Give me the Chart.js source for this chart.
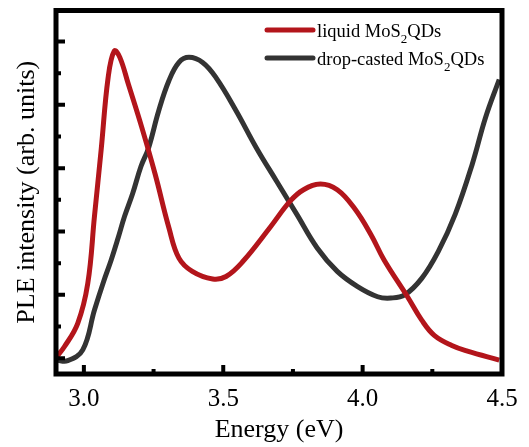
<!DOCTYPE html>
<html>
<head>
<meta charset="utf-8">
<script src="https://cdn.jsdelivr.net/npm/chart.js@4"></script>
<style>
  html, body { margin: 0; padding: 0; background: #fff; }
  canvas { display: block; }
</style>
</head>
<body>
<canvas id="pleChart" width="529" height="447"></canvas>
<script>
// PLE spectra, energy in eV, intensity in arbitrary units
const liquidEnergy = [2.90, 2.93, 2.978, 3.014, 3.038, 3.062, 3.087, 3.109, 3.129, 3.16, 3.208, 3.256, 3.305, 3.341, 3.389, 3.462, 3.51, 3.571, 3.667, 3.74, 3.788, 3.849, 3.909, 3.97, 4.03, 4.077, 4.161, 4.212, 4.257, 4.32, 4.376, 4.49];
const liquidIntensity = [0.01, 0.18, 0.55, 1.18, 2.24, 3.29, 4.43, 4.85, 4.75, 4.32, 3.64, 2.90, 2.06, 1.58, 1.37, 1.25, 1.29, 1.53, 2.06, 2.48, 2.66, 2.75, 2.66, 2.37, 1.95, 1.55, 0.97, 0.60, 0.36, 0.20, 0.11, -0.03];

const castEnergy = [2.90, 2.942, 2.996, 3.038, 3.07, 3.098, 3.123, 3.146, 3.175, 3.205, 3.232, 3.268, 3.305, 3.341, 3.377, 3.426, 3.474, 3.547, 3.619, 3.692, 3.764, 3.837, 3.909, 3.982, 4.054, 4.101, 4.151, 4.212, 4.272, 4.332, 4.393, 4.441, 4.49];
const castIntensity = [-0.03, -0.04, 0.13, 0.76, 1.2, 1.55, 1.9, 2.24, 2.6, 3.03, 3.32, 3.90, 4.38, 4.67, 4.75, 4.67, 4.43, 3.90, 3.32, 2.79, 2.27, 1.74, 1.37, 1.13, 0.97, 0.95, 1.0, 1.26, 1.69, 2.27, 3.06, 3.80, 4.40];

const xTickValues = [3.0, 3.5, 4.0, 4.5];
const xMinorTicks = [3.25, 3.75, 4.25];
const yMajorTicks = [0, 1, 2, 3, 4, 5];
const yMinorTicks = [0.5, 1.5, 2.5, 3.5, 4.5];

const seriesNames = ['liquid MoS|2|QDs', 'drop-casted MoS|2|QDs'];
const seriesColors = ['#b3151b', '#333333'];

const serif = "'Liberation Serif', 'Times New Roman', serif";

function toPoints(xs, ys) {
  return xs.map((x, i) => ({ x: x, y: ys[i] }));
}

// frame, inward ticks and legend with subscripts
const framePlugin = {
  id: 'frame',
  afterDatasetsDraw(chart) {
    const ctx = chart.ctx;
    const a = chart.chartArea;
    const xs = chart.scales.x, ys = chart.scales.y;
    ctx.save();
    ctx.strokeStyle = '#000';
    ctx.lineWidth = 4;
    ctx.beginPath();
    xTickValues.forEach(v => {
      const px = xs.getPixelForValue(v);
      ctx.moveTo(px, a.bottom); ctx.lineTo(px, a.bottom - 9);
    });
    xMinorTicks.forEach(v => {
      const px = xs.getPixelForValue(v);
      ctx.moveTo(px, a.bottom); ctx.lineTo(px, a.bottom - 5);
    });
    yMajorTicks.forEach(v => {
      const py = ys.getPixelForValue(v);
      ctx.moveTo(a.left, py); ctx.lineTo(a.left + 9, py);
    });
    yMinorTicks.forEach(v => {
      const py = ys.getPixelForValue(v);
      ctx.moveTo(a.left, py); ctx.lineTo(a.left + 5, py);
    });
    ctx.stroke();

    ctx.lineWidth = 5;
    ctx.strokeRect(a.left, a.top, a.right - a.left, a.bottom - a.top);

    // legend
    const lx = 267, lw = 46;
    const rows = [30, 58];
    chart.data.datasets.forEach((ds, i) => {
      const y = rows[i];
      ctx.strokeStyle = ds.borderColor;
      ctx.lineWidth = 5;
      ctx.lineCap = 'round';
      ctx.beginPath();
      ctx.moveTo(lx, y); ctx.lineTo(lx + lw, y);
      ctx.stroke();

      const parts = seriesNames[i].split('|');
      let tx = lx + lw + 4;
      ctx.fillStyle = '#000';
      ctx.textBaseline = 'alphabetic';
      ctx.textAlign = 'left';
      parts.forEach((p, k) => {
        const sub = k === 1;
        ctx.font = (sub ? 13 : 18.5) + 'px ' + serif;
        ctx.fillText(p, tx, y + 7 + (sub ? 6 : 0));
        tx += ctx.measureText(p).width;
      });
    });
    ctx.restore();
  }
};

const ctx = document.getElementById('pleChart').getContext('2d');
const pleChart = new Chart(ctx, {
  type: 'line',
  data: {
    datasets: [{
      label: 'liquid MoS2QDs',
      data: toPoints(liquidEnergy, liquidIntensity),
      borderColor: seriesColors[0],
      borderWidth: 5,
      pointRadius: 0,
      tension: 0.4
    }, {
      label: 'drop-casted MoS2QDs',
      data: toPoints(castEnergy, castIntensity),
      borderColor: seriesColors[1],
      borderWidth: 5,
      pointRadius: 0,
      tension: 0.4
    }]
  },
  options: {
    responsive: false,
    animation: false,
    layout: { padding: { top: 10.5, right: 27, left: 0, bottom: 0 } },
    plugins: {
      legend: { display: false },
      tooltip: { enabled: false }
    },
    scales: {
      x: {
        type: 'linear',
        min: 2.9,
        max: 4.5,
        afterBuildTicks: s => { s.ticks = xTickValues.map(v => ({ value: v })); },
        afterFit: s => { s.height = 73; },
        grid: { display: false, drawTicks: false },
        border: { display: false },
        ticks: {
          autoSkip: false,
          maxRotation: 0,
          padding: 10.5,
          color: '#000',
          font: { family: serif, size: 25 },
          callback: v => v.toFixed(1)
        },
        title: {
          display: true,
          text: 'Energy (eV)',
          color: '#000',
          font: { family: serif, size: 26 },
          padding: { top: 0, bottom: 1.4 }
        }
      },
      y: {
        min: -0.25,
        max: 5.49,
        afterFit: s => { s.width = 56; },
        grid: { display: false, drawTicks: false },
        border: { display: false },
        ticks: { display: false },
        title: {
          display: true,
          text: 'PLE intensity (arb. units)',
          color: '#000',
          font: { family: serif, size: 26 },
          padding: { top: 11.4, bottom: 0 }
        }
      }
    }
  },
  plugins: [framePlugin]
});
</script>
</body>
</html>
